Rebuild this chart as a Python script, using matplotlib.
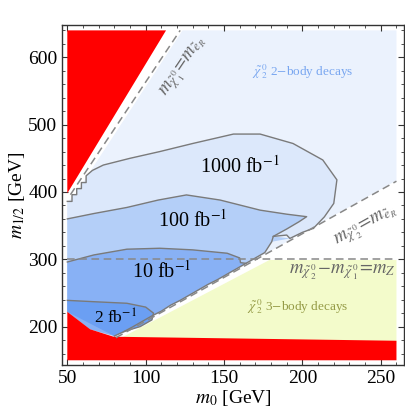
import numpy as np
import matplotlib.pyplot as plt
from matplotlib.ticker import MultipleLocator

plt.rcParams['font.family'] = ['Liberation Serif', 'DejaVu Serif']
plt.rcParams['mathtext.fontset'] = 'stix'

# excluded (red) regions
red_top_x = [50, 50, 113]
red_top_y = [640, 398, 640]
red_bot_x = [50, 50, 64.6, 79.5, 260, 260]
red_bot_y = [150, 222, 196, 185, 179, 150]

# kinematic lines
line1_x = [52, 122]            # m_chi1 = m_eR
line1_y = [396, 640]
line2_x = [81, 260]            # m_chi2 = m_eR
line2_y = [183.5, 416]
mz_x = [50, 260]               # m_chi2 - m_chi1 = m_Z
mz_y = [300, 300]

# 2-body region and 3-body region
body2_x = [50, 50, 55.5, 123.5, 260, 260, 81, 64.6]
body2_y = [222, 385, 398, 640, 640, 417, 184, 196]
body3_x = [80, 179, 260, 260, 80]
body3_y = [178, 299, 299, 175, 175]

# stepped lower-right edge shared by the contours (bottom -> top)
edge_x = [64.6, 80, 86, 92, 98, 104, 110, 116, 122, 128, 134, 140, 146, 152, 158,
          164, 170, 176, 180.4, 181.4, 190, 192, 200, 207]
edge_y = [196, 186, 192.5, 200, 208, 216, 223, 232, 239, 247, 255, 263, 270, 278, 286,
          294, 302, 310, 326, 334, 336, 331, 340, 346]

# luminosity contours: upper curves (left -> right, ending on the edge)
c1000_x = [50, 53, 53, 56, 56, 59, 59, 62, 62, 66, 73, 90, 109, 130, 156, 173, 194, 213,
           222, 220, 214, 207]
c1000_y = [386, 386, 396, 396, 405, 405, 414, 414, 424, 432, 440, 450, 460, 472, 486, 486,
           472, 447.5, 418, 383, 363, 346]
c100_x = [50, 67, 88, 108, 126, 147.5, 173, 190, 202.7, 198, 190, 181.4]
c100_y = [360, 368, 377, 388, 395.6, 388, 373, 367, 363.3, 356, 345, 334]
c10_x = [50, 67, 88, 109, 130, 152, 160, 160.5, 164]
c10_y = [296, 306.5, 315, 316.4, 314, 309, 302, 295, 294]
c2_x = [50, 67, 88, 100, 105, 104, 96.5, 90, 86]
c2_y = [239, 237, 234.7, 229, 220, 210, 200, 195.5, 192.5]

contours = [
    (c1000_x, c1000_y, '#dce8fb', '1000 fb$^{-1}$', 160, 438, 14.5),
    (c100_x, c100_y, '#b4cff8', '100 fb$^{-1}$', 130, 357, 14.5),
    (c10_x, c10_y, '#88b1f5', '10 fb$^{-1}$', 110, 282, 14.5),
    (c2_x, c2_y, '#6b9ff3', '2 fb$^{-1}$', 81, 213, 12.5),
]

fig = plt.figure(figsize=(4.05, 4.18), dpi=100)
ax = fig.add_axes([0.1538, 0.1268, 0.8437, 0.8134])

ax.fill(body2_x, body2_y, color='#ebf2fd', lw=0, zorder=1)
ax.fill(body3_x, body3_y, color='#f3fbcb', lw=0, zorder=1)

for cx, cy, col, lab, tx, ty, fs in contours:
    # walk back down the edge from where the curve meets it
    end_y = cy[-1]
    ex = [x for x, y in zip(edge_x, edge_y) if y <= end_y - 0.5]
    ey = [y for y in edge_y if y <= end_y - 0.5]
    px = list(cx) + ex[::-1] + [50]
    py = list(cy) + ey[::-1] + [222]
    ax.fill(px, py, color=col, lw=0, zorder=2)
    ax.plot(cx, cy, color='#7a7a7a', lw=1.0, zorder=4)
    ax.text(tx, ty, lab, fontsize=fs, ha='center', va='center', zorder=6)

ax.plot(edge_x[1:], edge_y[1:], color='#7a7a7a', lw=1.0, zorder=4)

ax.fill(red_top_x, red_top_y, color='#ff0000', lw=0, zorder=3)
ax.fill(red_bot_x, red_bot_y, color='#ff0000', lw=0, zorder=3)

dash = dict(color='#888888', lw=1.1, ls=(0, (5, 3)), zorder=5)
ax.plot(line1_x, line1_y, **dash)
ax.plot(line2_x, line2_y, **dash)
ax.plot(mz_x, mz_y, **dash)

gray = '#666666'
ax.text(124.5, 585, r'$m_{\tilde\chi_1^0}\!=\!m_{\tilde e_R}$', color=gray, fontsize=13.5,
        rotation=56, ha='center', va='center', zorder=6)
ax.text(240.5, 348, r'$m_{\tilde\chi_2^0}\!=\!m_{\tilde e_R}$', color=gray, fontsize=13.5,
        rotation=29, ha='center', va='center', zorder=6)
ax.text(259.5, 281, r'$m_{\tilde\chi_2^0}\!-\!m_{\tilde\chi_1^0}\!=\!m_Z$', color=gray,
        fontsize=13.5, ha='right', va='center', zorder=6)
ax.text(200, 579, r'$\tilde\chi_2^0$ 2$-$body decays', color='#78a6f0', fontsize=9.5,
        ha='center', va='center', zorder=6)
ax.text(197, 230, r'$\tilde\chi_2^0$ 3$-$body decays', color='#949a45', fontsize=9.5,
        ha='center', va='center', zorder=6)

ax.set_xlim(46.8, 264.8)
ax.set_ylim(143, 648)
ax.xaxis.set_major_locator(MultipleLocator(50))
ax.xaxis.set_minor_locator(MultipleLocator(10))
ax.yaxis.set_major_locator(MultipleLocator(100))
ax.yaxis.set_minor_locator(MultipleLocator(20))
ax.tick_params(which='both', direction='in', top=True, right=True, labelsize=14,
               color='#333333')
ax.tick_params(which='major', length=4)
ax.tick_params(which='minor', length=2)
for s in ax.spines.values():
    s.set_color('#333333')
    s.set_linewidth(1.0)

ax.set_xlabel('$m_0$ [GeV]', fontsize=14, labelpad=1)
ax.set_ylabel('$m_{1/2}$ [GeV]', fontsize=14, labelpad=1)

fig.savefig('out.png', dpi=100)
